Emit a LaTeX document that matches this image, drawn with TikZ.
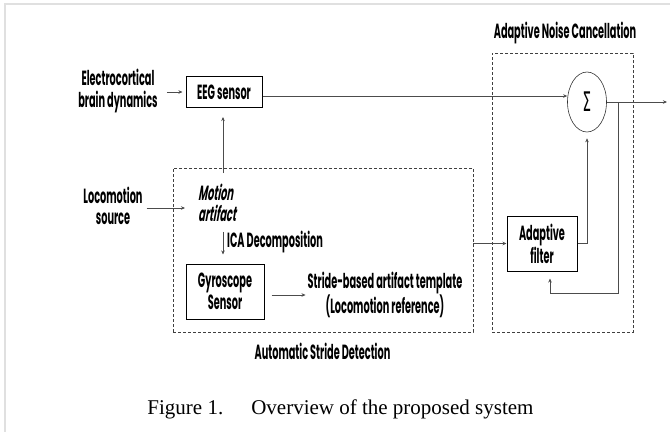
\documentclass[tikz,border=0pt]{standalone}
\usepackage{fontspec}
\setmainfont{Liberation Serif}
\newfontfamily\gfont[FakeStretch=0.475]{Poppins}
\newfontfamily\gslant[FakeStretch=0.475,FakeSlant=0.18]{Poppins}
\newfontfamily\symfont{DejaVu Sans}
\usetikzlibrary{shapes.geometric,arrows.meta}
\tikzset{
  lbl/.style={font=\gfont\bfseries\fontsize{20.5}{21.5}\selectfont, inner sep=0pt, align=center},
  boxed/.style={lbl, draw=black, line width=1pt},
  dbox/.style={draw=black!75, densely dashed, line width=0.6pt, inner sep=0pt},
  arr/.style={draw=black!70, line width=0.6pt, -{Stealth[length=4pt,width=3.5pt]}},
  ln/.style={draw=black!70, line width=0.6pt}
}
\begin{document}
\begin{tikzpicture}[x=1pt,y=-1pt]
\useasboundingbox (0,0) rectangle (670,432);
\draw[black!12, line width=1.5pt] (5,432) -- (5,4) -- (670,4);

% dashed group boxes
\node[dbox, minimum width=300pt, minimum height=164pt] (asd) at (323,250) {};
\node[dbox, minimum width=141pt, minimum height=279pt] (anc) at (562.5,192.5) {};
\node[lbl] (asdlbl) at (322.5,351) {Automatic Stride Detection};
\node[lbl] (anclbl) at (565,33) {Adaptive Noise Cancellation};

% text and blocks
\node[lbl] (elec) at (118,91) {Electrocortical\\brain dynamics};
\node[boxed, minimum width=76pt, minimum height=31pt] (eeg) at (224,92) {EEG sensor};
\node[lbl] (loco) at (113,206) {Locomotion\\source};
\node[lbl, font=\gslant\bfseries\fontsize{20.5}{21.5}\selectfont, align=left, anchor=west] (motion) at (198,203) {Motion\\artifact};
\node[lbl, anchor=west] (ica) at (227,242) {ICA Decomposition};
\node[boxed, minimum width=78pt, minimum height=55pt] (gyro) at (225,291.5) {Gyroscope\\Sensor};
\node[lbl] (stride) at (385,295) {Stride-based artifact template\\(Locomotion reference)};
\node[draw=black!80, line width=0.6pt, ellipse, minimum width=39pt, minimum height=60pt, inner sep=0pt] (sig) at (587,102) {\scalebox{0.5}[1]{\symfont\fontsize{27}{27}\selectfont Σ}};
\node[boxed, minimum width=70pt, minimum height=55pt] (filt) at (542,243.5) {Adaptive\\filter};

\coordinate (m1) at (223,173);
\coordinate (out) at (667,102);
\coordinate (fb) at (618,293);

% connectors
\draw[arr, shorten <=9pt, shorten >=3pt] (elec.east |- eeg.west) -- (eeg.west);
\draw[arr] (eeg.east |- 0,96) -- (sig.west |- 0,96);
\draw[arr, shorten >=9pt] (m1) -- (eeg.south -| m1);
\draw[arr, shorten <=4pt, shorten >=13pt] (loco.east |- 0,208) -- (motion.west |- 0,208);
\draw[arr, shorten <=1pt, shorten >=9pt] (ica.north west -| m1) -- (gyro.north -| m1);
\draw[arr, shorten <=7pt, shorten >=2pt] (gyro.east |- stride.west) -- (stride.west);
\draw[arr] (asd.east |- filt.west) -- (filt.west);
\draw[arr, shorten >=6pt] (filt.east) -| (sig.south);
\draw[arr] (sig.east) -- (out);
\draw[arr, shorten >=7pt] (sig.east -| fb) -- (fb) -| ([xshift=8pt]filt.south);

% caption
\node[font=\fontsize{21}{25}\selectfont, inner sep=0pt] (cap) at (340.5,409) {Figure 1.\hspace{28pt}Overview of the proposed system};
\end{tikzpicture}
\end{document}
